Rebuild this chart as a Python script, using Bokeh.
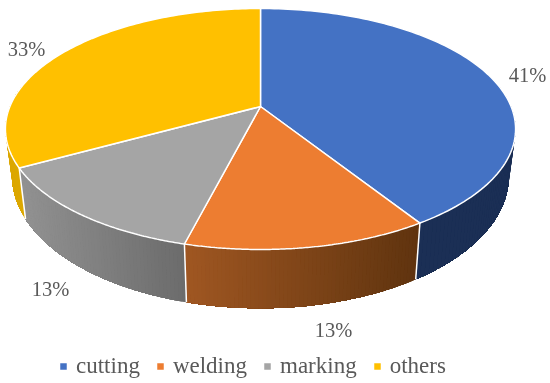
import numpy as np
from bokeh.plotting import figure
from bokeh.models import Range1d, Legend, LegendItem
from bokeh.core.properties import value
from bokeh.embed import file_html
from bokeh.resources import INLINE

categories = ["cutting", "welding", "marking", "others"]
shares = [41, 13, 13, 33]
pct_labels = ["41%", "13%", "13%", "33%"]
top_colors = ["#4472C4", "#ED7D31", "#A5A5A5", "#FFC000"]
side_left = ["#1B2F55", "#A05722", "#929292", "#DCA800"]
side_right = ["#1B2F55", "#60340F", "#6C6C6C", "#DCA800"]

CX = 260.0
FONT = "Liberation Serif"
TEXT = "#595959"
C = 0.1867


def project(theta, R, a, b):
    u, v = np.sin(theta), np.cos(theta)
    w = 1 + C * v
    return CX + R * u / w, (a * v + b) / w


def top(t):
    return project(t, 250.6, -96.5, 106.0)


def bottom(t):
    return project(t, 244.0, -99.0, 151.3)


def mix(c1, c2, f):
    p = [int(c1[i:i + 2], 16) for i in (1, 3, 5)]
    q = [int(c2[i:i + 2], 16) for i in (1, 3, 5)]
    return "#%02x%02x%02x" % tuple(round(x + (y - x) * f) for x, y in zip(p, q))


p = figure(width=550, height=383, output_backend="svg", toolbar_location=None,
           x_range=Range1d(0, 550), y_range=Range1d(383, 0),
           x_axis_type=None, y_axis_type=None, min_border=0,
           outline_line_color=None)
p.grid.visible = False
p.styles = {"position": "fixed", "left": "0px", "top": "0px"}

edges = np.radians(np.concatenate([[0], np.cumsum(shares)]) / sum(shares) * 360)

# Walls, painted first so that the top face hides everything behind it.
# Each step paints its own quad (which gives the silhouette) and everything up to
# the end of its slice, so later steps overpaint it without seams.
for i in range(len(shares)):
    lo, hi = max(edges[i], np.radians(80)), min(edges[i + 1], np.radians(280))
    if hi <= lo:
        continue
    ts = np.linspace(lo, hi, 61)
    tx, ty = top(ts)
    bx, by = bottom(ts)
    xmin, xmax = bx.min(), bx.max()
    for k in range(len(ts) - 1):
        f = (bx[k] - xmin) / max(xmax - xmin, 1)
        col = mix(side_left[i], side_right[i], f)
        p.patches([np.r_[tx[k:], bx[k:][::-1]], [tx[k], tx[k + 1], bx[k + 1], bx[k]]],
                  [np.r_[ty[k:], by[k:][::-1]], [ty[k], ty[k + 1], by[k + 1], by[k]]],
                  fill_color=col, line_color=None)

# White dividers on the front of the wall
for e in edges[1:-1]:
    tx, ty = top(e)
    bx, by = bottom(e)
    p.line([tx, bx], [ty, by], line_color="white", line_width=1.5)

# Top face
apex_y = 106.0
items = []
for i, name in enumerate(categories):
    ts = np.linspace(edges[i], edges[i + 1], 120)
    x, y = top(ts)
    r = p.patch(np.r_[CX, x], np.r_[apex_y, y], fill_color=top_colors[i],
                line_color="white", line_width=1.5)
    items.append(LegendItem(label=name, renderers=[r]))

# Percentage labels
label_x = [527, 333, 50, 26]
label_y = [74, 329, 288, 48]
p.text(label_x, label_y, text=pct_labels, text_font=value(FONT), text_font_size="20.5px",
       text_color=TEXT, text_align="center", text_baseline="middle")

legend = Legend(items=items, orientation="horizontal", location=(58, 4),
                glyph_width=10, glyph_height=10, label_standoff=8, spacing=15,
                padding=0, margin=0, border_line_color=None, background_fill_alpha=0,
                label_text_font=FONT, label_text_font_size="23px", label_text_color=TEXT)
p.add_layout(legend, "center")

open("out.html", "w").write(file_html(p, INLINE))
